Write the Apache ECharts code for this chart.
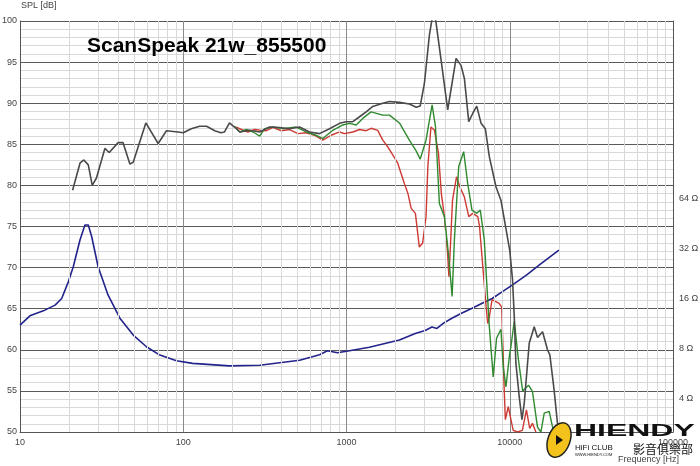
<!DOCTYPE html>
<html>
<head>
<meta charset="utf-8">
<script src="https://cdn.jsdelivr.net/npm/echarts@6/dist/echarts.min.js"></script>
<style>html,body{margin:0;padding:0;background:#fff}#c{width:700px;height:466px}</style>
</head>
<body>
<div id="c"></div>
<script>
// ---- data: [frequency Hz, value] ----
const titleText = 'ScanSpeak 21w_855500';
const xTicks = [10, 100, 1000, 10000, 100000];
const ySplTicks = [50, 55, 60, 65, 70, 75, 80, 85, 90, 95, 100];
const impTicks = [4, 8, 16, 32, 64];

const splOnAxis = [[21,79.4],[23.3,82.7],[24.6,83.1],[26.2,82.5],[27.7,80.0],[29.4,80.9],[33.1,84.5],[35.2,84.0],[39.9,85.2],[42.8,85.2],[47.1,82.6],[49.3,82.8],[59,87.6],[70.2,85.1],[78.9,86.65],[93,86.5],[100,86.4],[112,86.9],[126,87.2],[139,87.2],[156,86.65],[170,86.4],[179,86.5],[192,87.6],[206,87.1],[222,86.5],[255,86.7],[294,86.5],[338,87.1],[389,87.05],[448,86.9],[516,87.1],[594,86.5],[684,86.3],[787,86.9],[906,87.55],[995,87.75],[1093,87.75],[1202,88.35],[1320,88.95],[1448,89.6],[1668,90.0],[1833,90.2],[2110,90.1],[2427,89.9],[2673,89.5],[2827,89.65],[3000,92.4],[3220,98.3],[3345,100.3],[3508,100.3],[3797,95.25],[4169,89.2],[4690,95.45],[5031,94.6],[5274,93.0],[5607,87.75],[5931,88.75],[6277,89.65],[6674,87.55],[7085,86.9],[7496,83.5],[8240,79.8],[8830,78.2],[10000,72.1],[10400,68.5],[10660,64.0],[10900,58.4],[11430,54.3],[11880,51.5],[12270,53.5],[13160,60.8],[14120,62.8],[14800,61.5],[15890,62.2],[17030,60.0],[17600,59.4],[18700,55.1],[19600,51.05],[20000,50]];

const spl30 = [[206,87.2],[222,86.5],[244,86.8],[268,86.5],[294,86.0],[315,86.9],[354,87.1],[408,86.9],[492,87.1],[567,86.5],[653,86.1],[716,85.7],[824,86.7],[950,87.35],[1043,87.55],[1146,87.35],[1258,88.15],[1415,88.95],[1668,88.55],[1833,88.55],[2110,87.6],[2427,85.5],[2670,84.2],[2827,83.2],[3070,85.5],[3345,89.8],[3508,87.15],[3706,77.8],[3981,76.2],[4230,71.3],[4436,66.5],[4582,73.4],[4868,82.3],[5222,84.1],[5524,80.25],[5870,77.0],[6277,76.6],[6600,77.0],[6980,73.4],[7310,66.5],[7496,62.8],[7920,56.7],[8300,61.4],[8830,62.5],[9120,57.9],[9480,55.5],[10000,59.6],[10170,60.4],[10660,63.5],[11300,58.8],[11990,55.0],[13030,55.7],[13780,54.9],[14790,50.6],[15520,50.0],[16260,52.3],[17450,52.5],[18290,50.6],[18980,50]];

const spl60 = [[211,87.1],[227,86.8],[249,86.5],[274,86.8],[300,86.7],[323,86.65],[354,87.05],[399,86.65],[448,86.8],[504,86.3],[566,86.4],[636,86.1],[716,85.5],[805,86.1],[906,86.5],[972,86.3],[1093,86.5],[1202,86.8],[1320,86.65],[1415,86.95],[1554,86.7],[1668,85.5],[1789,84.7],[1920,83.7],[2060,82.7],[2265,80.2],[2380,79.0],[2490,77.2],[2643,76.6],[2793,72.5],[2928,73.0],[3070,76.2],[3150,82.3],[3290,87.1],[3460,86.7],[3660,83.9],[3810,79.0],[3980,76.2],[4150,72.1],[4240,68.9],[4340,73.0],[4460,78.2],[4720,81.05],[4950,79.8],[5270,78.6],[5610,76.2],[5930,76.6],[6370,76.2],[6530,75.0],[6840,70.1],[7170,65.2],[7330,63.2],[7500,64.0],[7790,66.1],[7920,66.1],[8600,65.65],[8930,65.2],[9220,55.9],[9400,51.5],[9800,53.1],[10170,51.5],[10500,50.2],[11170,50],[11950,50.2],[12650,52.7],[13250,50.45],[13780,51.05],[14460,50]];

const impedance = [[10,11.0],[11.5,12.5],[13.9,13.4],[16.4,14.5],[18.0,15.9],[19.8,20.1],[21.2,24.7],[23.3,35.8],[25.0,44.0],[26.2,44.0],[27.5,37.4],[30.1,24.7],[34.6,16.7],[40.9,12.1],[49.4,9.58],[59.5,8.15],[71.9,7.26],[90.9,6.71],[114,6.47],[192,6.25],[294,6.3],[516,6.75],[684,7.3],[764,7.7],[880,7.5],[1043,7.7],[1380,8.1],[2110,8.94],[2636,9.8],[3035,10.2],[3333,10.7],[3580,10.5],[3930,11.3],[4420,12.1],[5100,13.0],[5880,13.9],[6780,14.9],[7810,15.9],[9020,17.5],[10400,19.2],[12650,22.0],[15200,25.3],[20000,31.1]];

// minor vertical grid positions (2..9 x decade)
const minorX = [];
for (let d = 10; d < 100000; d *= 10) for (let m = 2; m <= 9; m++) minorX.push({ xAxis: m * d });

const chart = echarts.init(document.getElementById('c'), null, { renderer: 'canvas' });
const labelFont = { fontFamily: 'Liberation Sans', fontSize: 9, color: '#444' };

chart.setOption({
  animation: false,
  backgroundColor: '#fff',
  grid: { left: 20, right: 27, top: 21, bottom: 34, containLabel: false, outerBoundsMode: 'none' },
  xAxis: {
    type: 'log', logBase: 10, min: 10, max: 100000,
    axisLine: { show: true, lineStyle: { color: '#555', width: 1 } },
    axisTick: { show: false },
    axisLabel: Object.assign({ margin: 6, formatter: v => xTicks.includes(v) ? String(v) : '' }, labelFont),
    splitLine: { show: true, lineStyle: { color: '#8a8a8a', width: 1 } }
  },
  yAxis: [{
    type: 'value', min: 50, max: 100, interval: 5, position: 'left',
    axisLine: { show: true, lineStyle: { color: '#555', width: 1 } },
    axisTick: { show: false },
    axisLabel: Object.assign({ margin: 3, formatter: v => ySplTicks.includes(v) ? String(v) : '' }, labelFont),
    splitLine: { show: true, lineStyle: { color: '#5a5a5a', width: 1 } },
    minorTick: { show: false, splitNumber: 5 },
    minorSplitLine: { show: true, lineStyle: { color: '#d9d9d9', width: 1 } }
  }, {
    type: 'log', logBase: 2, min: 2.5, max: 744, splitNumber: 8, position: 'right',
    axisLine: { show: true, lineStyle: { color: '#555', width: 1 } },
    axisTick: { show: false },
    axisLabel: Object.assign({ margin: 6, formatter: v => {
      const r = Math.round(v);
      return (impTicks.includes(r) && Math.abs(v - r) < 0.01) ? r + ' Ω' : '';
    } }, labelFont),
    splitLine: { show: false }
  }],
  series: [
    {
      type: 'line', data: [], z: 1, silent: true,
      markLine: {
        silent: true, symbol: ['none', 'none'], label: { show: false },
        lineStyle: { color: '#d9d9d9', type: 'solid', width: 1 },
        data: minorX, animation: false
      }
    },
    { name: 'imp', type: 'line', yAxisIndex: 1, data: impedance, showSymbol: false, smooth: false, z: 3,
      lineStyle: { color: '#23238c', width: 1.6 } },
    { name: '60', type: 'line', data: spl60, showSymbol: false, z: 4, lineStyle: { color: '#cc3a33', width: 1.4 } },
    { name: '30', type: 'line', data: spl30, showSymbol: false, z: 5, lineStyle: { color: '#2f8a2f', width: 1.4 } },
    { name: '0', type: 'line', data: splOnAxis, showSymbol: false, z: 6, lineStyle: { color: '#4a4a4a', width: 1.6 } }
  ],
  graphic: [
    { type: 'text', left: 21, top: 1, style: { text: 'SPL [dB]', font: '9px "Liberation Sans"', fill: '#444' } },
    { type: 'text', x: 87, y: 46.5, style: { text: titleText, font: 'bold 21px "Liberation Sans"', fill: '#000', verticalAlign: 'middle' }, z: 10 },
    { type: 'text', x: 618, y: 460, style: { text: 'Frequency [Hz]', font: '9px "Liberation Sans"', fill: '#444', verticalAlign: 'middle' }, z: 20 },
    // logo watermark
    { type: 'ellipse', shape: { cx: 559, cy: 440, rx: 11, ry: 18 }, rotation: -0.35, originX: 559, originY: 440,
      style: { fill: '#f3c21c', stroke: '#222', lineWidth: 1.5 }, z: 20 },
    { type: 'polygon', shape: { points: [[556, 435], [563, 440], [556, 445]] }, style: { fill: '#111' }, z: 21 },
    { type: 'text', x: 574, y: 431.5, scaleX: 1.88, originX: 0, originY: 0,
      style: { text: 'HIENDY', font: 'bold 17px "Liberation Sans"', fill: '#111', verticalAlign: 'middle' }, z: 20 },
    { type: 'text', x: 575, y: 448, style: { text: 'HiFi CLUB', font: '8px "Liberation Sans"', fill: '#111', verticalAlign: 'middle' }, z: 20 },
    { type: 'text', x: 575, y: 454.5, style: { text: 'WWW.HIENDY.COM', font: '4px "Liberation Sans"', fill: '#111', verticalAlign: 'middle' }, z: 20 },
    { type: 'text', x: 633, y: 449, style: { text: '影音俱樂部', font: '12px "Noto Sans CJK TC"', fill: '#111', verticalAlign: 'middle' }, z: 20 }
  ]
});
</script>
</body>
</html>
